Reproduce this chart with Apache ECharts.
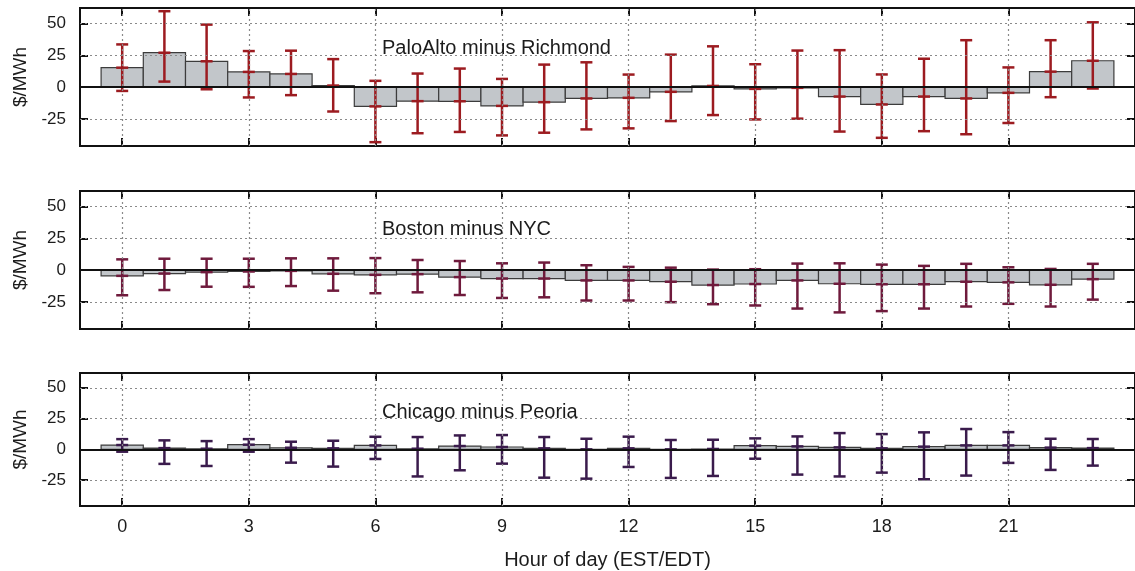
<!DOCTYPE html>
<html>
<head>
<meta charset="utf-8">
<script src="https://cdn.jsdelivr.net/npm/echarts@6/dist/echarts.min.js"></script>
<style>
  html, body { margin: 0; padding: 0; background: #fff; }
  #chart { width: 1135px; height: 571px; }
</style>
</head>
<body>
<div id="chart"></div>
<script>
// Hour of day for each bar
const hours = [0, 1, 2, 3, 4, 5, 6, 7, 8, 9, 10, 11, 12, 13, 14, 15, 16, 17, 18, 19, 20, 21, 22, 23];
const hourTicks = [0, 3, 6, 9, 12, 15, 18, 21];
const priceTicks = [-25, 0, 25, 50];

const panelTitles = ['PaloAlto minus Richmond', 'Boston minus NYC', 'Chicago minus Peoria'];

// PaloAlto minus Richmond ($/MWh): mean, upper and lower error bounds
const paloMean = [15.3, 27, 20.3, 12, 10.4, 1.3, -15, -10.9, -11, -14.6, -11.7, -8.8, -8.3, -3.6, 1, -1.3, -0.5, -7.3, -13.5, -7.3, -8.8, -4.4, 12.2, 20.7];
const paloHigh = [33.5, 59.5, 49, 28.3, 28.6, 22, 5, 10.7, 14.6, 6.5, 17.7, 19.5, 9.9, 25.5, 32, 18, 28.7, 29, 10, 22.3, 36.8, 15.5, 36.8, 50.8];
const paloLow  = [-2.9, 4.4, -1.6, -8, -6.2, -19, -43, -36, -35, -37.7, -35.6, -33, -32.2, -26.5, -21.8, -25.2, -24.6, -34.7, -39.6, -34.4, -36.8, -28, -7.8, -1];

// Boston minus NYC ($/MWh)
const bostonMean = [-4.4, -2.6, -1.5, -1, -0.5, -2.8, -3.6, -3.1, -5.4, -6.5, -6.5, -8, -8, -9, -11.6, -10.8, -8, -10.6, -11, -11, -9, -9.5, -11.4, -7];
const bostonHigh = [8.5, 9, 9, 9, 9.3, 9.3, 9.5, 8, 7.2, 5.4, 6, 3.9, 2.6, 2, 0.5, 0.8, 5.2, 5.4, 4.4, 3.4, 5, 2.3, 1, 5];
const bostonLow  = [-19.6, -15.5, -12.9, -13, -12.4, -16, -18, -17.3, -19.4, -21.7, -21.2, -23.7, -23.7, -25, -26.6, -27.6, -30, -33, -32, -30, -28.4, -26.3, -28.4, -23];

// Chicago minus Peoria ($/MWh)
const chicagoMean = [3.5, 1, 0.5, 3.8, 1.3, 0.8, 3.2, 0.5, 2.7, 1.9, 0.8, 0, 0.8, 0, 0.3, 3, 2.4, 1.6, 0.8, 2.2, 3.2, 3.2, 1.4, 1];
const chicagoHigh = [8.3, 7.3, 6.7, 8.3, 6.2, 7, 10.2, 10, 11.3, 11.6, 10, 8.6, 10.3, 7.6, 7.8, 8.9, 10.5, 13.2, 12.4, 13.8, 16.5, 14, 8.6, 8.4];
const chicagoLow  = [-1.9, -11.8, -13.5, -1.9, -10.8, -14, -7.8, -22, -17, -11.6, -23, -23.8, -14.3, -23.2, -21.6, -7.6, -20.5, -22, -18.9, -24.3, -21.3, -11, -16.7, -13.2];

const panels = [
  { mean: paloMean, high: paloHigh, low: paloLow, color: '#9c1b20', top: 8, height: 138, titleTop: 38 },
  { mean: bostonMean, high: bostonHigh, low: bostonLow, color: '#6f1a3c', top: 191, height: 138, titleTop: 219 },
  { mean: chicagoMean, high: chicagoHigh, low: chicagoLow, color: '#3a1b4c', top: 373, height: 133, titleTop: 402 }
];

const FONT = 'Liberation Sans, Arial, Helvetica, sans-serif';
const TEXT = '#1c1c1c';

const chart = echarts.init(document.getElementById('chart'), null, { renderer: 'canvas' });

const grids = [], xAxes = [], yAxes = [], series = [], graphics = [];

function renderBar(params, api) {
  const x = api.value(0);
  const v = api.value(1);
  const a = api.coord([x - 0.5, 0]);
  const b = api.coord([x + 0.5, v]);
  return {
    type: 'rect',
    shape: { x: a[0], y: Math.min(a[1], b[1]), width: b[0] - a[0], height: Math.abs(b[1] - a[1]) },
    style: { fill: '#c2c6ca', stroke: '#3c3c3c', lineWidth: 1.2 }
  };
}

function makeErrorRenderer(color) {
  return function (params, api) {
    const x = api.value(0);
    const lo = api.coord([x, api.value(1)]);
    const hi = api.coord([x, api.value(2)]);
    const mid = api.coord([x, api.value(3)]);
    const half = 6;
    const style = { stroke: color, lineWidth: 2.5, fill: null };
    const seg = (x1, y1, x2, y2) => ({ type: 'line', shape: { x1, y1, x2, y2 }, style });
    return {
      type: 'group',
      children: [
        seg(lo[0], lo[1], hi[0], hi[1]),
        seg(lo[0] - half, lo[1], lo[0] + half, lo[1]),
        seg(hi[0] - half, hi[1], hi[0] + half, hi[1]),
        seg(mid[0] - half, mid[1], mid[0] + half, mid[1])
      ]
    };
  };
}

const dotted = { color: '#8a8a8a', type: [2, 3], width: 1.2 };
const tickStyle = { color: '#111', width: 2 };

panels.forEach((p, i) => {
  const isLast = i === panels.length - 1;
  grids.push({
    left: 80, width: 1057, top: p.top, height: p.height,
    show: true, borderColor: '#111', borderWidth: 2, backgroundColor: 'transparent'
  });
  // bottom x axis
  xAxes.push({
    type: 'value', gridIndex: i, min: -1, max: 24, position: 'bottom',
    axisLine: { show: false, onZero: false }, splitLine: { show: false },
    axisTick: { show: true, inside: true, length: 8, customValues: hourTicks, lineStyle: tickStyle },
    axisLabel: { show: isLast, customValues: hourTicks, fontSize: 18, fontFamily: FONT, color: TEXT, margin: 12 },
    name: isLast ? 'Hour of day (EST/EDT)' : '',
    nameLocation: 'middle', nameGap: 44,
    nameTextStyle: { fontSize: 20, fontFamily: FONT, color: TEXT }
  });
  // top mirror x axis
  xAxes.push({
    type: 'value', gridIndex: i, min: -1, max: 24, position: 'top',
    axisLine: { show: false, onZero: false }, splitLine: { show: false },
    axisTick: { show: true, inside: true, length: 8, customValues: hourTicks, lineStyle: tickStyle },
    axisLabel: { show: false }
  });
  // left y axis
  yAxes.push({
    type: 'value', gridIndex: i, min: -46, max: 62, position: 'left',
    axisLine: { show: false, onZero: false }, splitLine: { show: false },
    axisTick: { show: true, inside: true, length: 8, customValues: priceTicks, lineStyle: tickStyle },
    axisLabel: { customValues: priceTicks, fontSize: 17, fontFamily: FONT, color: TEXT, margin: 14 },
    name: '$/MWh', nameLocation: 'middle', nameRotate: 90, nameGap: 47,
    nameTextStyle: { fontSize: 19, fontFamily: FONT, color: TEXT }
  });
  // right mirror y axis
  yAxes.push({
    type: 'value', gridIndex: i, min: -46, max: 62, position: 'right',
    axisLine: { show: false, onZero: false }, splitLine: { show: false },
    axisTick: { show: true, inside: true, length: 8, customValues: priceTicks, lineStyle: tickStyle },
    axisLabel: { show: false }
  });

  const xi = i * 2, yi = i * 2;

  // dotted grid lines behind the bars
  series.push({
    type: 'line', xAxisIndex: xi, yAxisIndex: yi, data: [], z: 1, silent: true,
    markLine: {
      silent: true, symbol: 'none', label: { show: false },
      lineStyle: dotted,
      data: [
        ...priceTicks.filter(v => v !== 0).map(v => ({ yAxis: v })),
        ...hourTicks.map(h => ({ xAxis: h }))
      ]
    }
  });

  // bars for the hourly mean difference
  series.push({
    type: 'custom', xAxisIndex: xi, yAxisIndex: yi, z: 2, clip: true,
    renderItem: renderBar,
    data: hours.map((h, k) => [h, p.mean[k]]),
    encode: { x: 0, y: 1 }
  });

  // solid zero line
  series.push({
    type: 'line', xAxisIndex: xi, yAxisIndex: yi, data: [], z: 3, silent: true,
    markLine: {
      silent: true, symbol: 'none', label: { show: false },
      lineStyle: { color: '#111', type: 'solid', width: 1.8 },
      data: [{ yAxis: 0 }]
    }
  });

  // error bars
  series.push({
    type: 'custom', xAxisIndex: xi, yAxisIndex: yi, z: 4, clip: true,
    renderItem: makeErrorRenderer(p.color),
    data: hours.map((h, k) => [h, p.low[k], p.high[k], p.mean[k]]),
    encode: { x: 0, y: [1, 2] }
  });

  graphics.push({
    type: 'text', left: 382, top: p.titleTop, z: 10,
    style: { text: panelTitles[i], font: '20px ' + FONT, fill: TEXT }
  });
});

chart.setOption({
  animation: false,
  backgroundColor: '#fff',
  grid: grids,
  xAxis: xAxes,
  yAxis: yAxes,
  series: series,
  graphic: graphics
});
</script>
</body>
</html>
